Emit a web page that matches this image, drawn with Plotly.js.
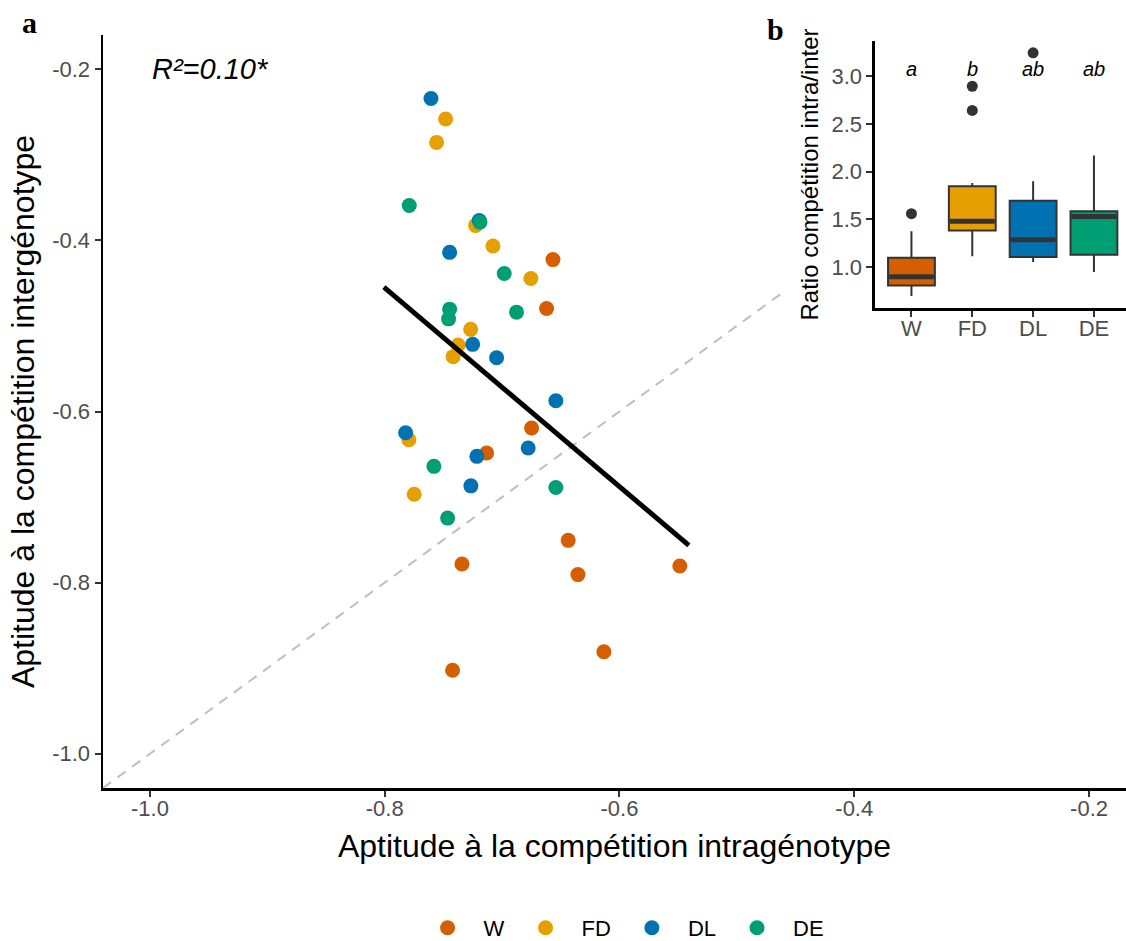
<!DOCTYPE html>
<html>
<head>
<meta charset="utf-8">
<script src="https://cdn.plot.ly/plotly-3.0.1.min.js"></script>
<style>html,body{margin:0;padding:0;background:#fff;}#chart{width:1126px;height:941px;}</style>
</head>
<body>
<div id="chart"></div>
<script>
// ---------- data: panel a ----------
const groups = ["W", "FD", "DL", "DE"];
const groupColors = ["#D55E00", "#E69F00", "#0072B2", "#009E73"];

const intraW  = [-0.6567, -0.6621, -0.6749, -0.7132, -0.6437, -0.7342, -0.6354, -0.5486, -0.6133, -0.7422];
const interW  = [-0.4225, -0.4796, -0.6193, -0.6485, -0.7506, -0.7782, -0.7906, -0.7805, -0.8807, -0.9024];
const intraFD = [-0.7481, -0.7558, -0.7226, -0.7078, -0.6755, -0.7268, -0.7374, -0.7417, -0.7794, -0.7749];
const interFD = [-0.2582, -0.2855, -0.3825, -0.4066, -0.4446, -0.5040, -0.5223, -0.5359, -0.6330, -0.6967];
const intraDL = [-0.7606, -0.7195, -0.7447, -0.7251, -0.7047, -0.6542, -0.7822, -0.7215, -0.6778, -0.7266];
const interDL = [-0.2342, -0.3767, -0.4140, -0.5215, -0.5371, -0.5875, -0.6248, -0.6524, -0.6426, -0.6869];
const intraDE = [-0.7791, -0.7189, -0.6982, -0.7447, -0.7456, -0.6877, -0.7581, -0.6542, -0.7464];
const interDE = [-0.3592, -0.3787, -0.4388, -0.4804, -0.4917, -0.4839, -0.6641, -0.6889, -0.7246];

// fitted regression line (ends)
const fitX = [-0.8007, -0.5409];
const fitY = [-0.4547, -0.7564];
// 1:1 reference line (visible part)
const refX = [-1.04, -0.458];
const refY = [-1.04, -0.458];

const mainTicks = [-1.0, -0.8, -0.6, -0.4, -0.2];
const mainTickText = ["-1.0", "-0.8", "-0.6", "-0.4", "-0.2"];

// ---------- data: panel b (box statistics) ----------
const boxQ1     = [0.808, 1.384, 1.105, 1.130];
const boxMedian = [0.899, 1.479, 1.287, 1.531];
const boxQ3     = [1.098, 1.848, 1.695, 1.586];
const boxLow    = [0.696, 1.112, 1.052, 0.948];
const boxHigh   = [1.374, 1.880, 1.900, 2.170];
const outlierGroup = [0, 1, 1, 2];
const outlierValue = [1.559, 2.895, 2.641, 3.245];
const letters = ["a", "b", "ab", "ab"];
const letterY = 3.08;
const ratioTicks = [1.0, 1.5, 2.0, 2.5, 3.0];
const ratioTickText = ["1.0", "1.5", "2.0", "2.5", "3.0"];

// ---------- traces ----------
const FONT = "Liberation Sans, Arial, sans-serif";
const xs = [intraW, intraFD, intraDL, intraDE];
const ys = [interW, interFD, interDL, interDE];
const traces = [];

traces.push({
  x: refX, y: refY, mode: "lines", type: "scatter", showlegend: false, hoverinfo: "skip",
  line: {color: "#BEBEBE", width: 2, dash: "10px,8px"}, xaxis: "x", yaxis: "y"
});

groups.forEach((g, i) => {
  traces.push({
    x: xs[i], y: ys[i], name: g, type: "scatter", mode: "markers",
    marker: {color: groupColors[i], size: 15, line: {width: 0}},
    xaxis: "x", yaxis: "y"
  });
});

traces.push({
  x: fitX, y: fitY, mode: "lines", type: "scatter", showlegend: false, hoverinfo: "skip",
  line: {color: "#000000", width: 5}, xaxis: "x", yaxis: "y"
});

const pos = groups.map((g, i) => i);
const BW = 0.77;
groups.forEach((g, i) => {
  traces.push({
    type: "box", x: [pos[i]], q1: [boxQ1[i]], median: [boxMedian[i]], q3: [boxQ3[i]],
    lowerfence: [boxLow[i]], upperfence: [boxHigh[i]],
    width: BW, whiskerwidth: 0, boxpoints: false,
    fillcolor: groupColors[i], line: {color: "#333333", width: 2},
    showlegend: false, xaxis: "x2", yaxis: "y2", hoverinfo: "skip"
  });
  traces.push({
    type: "scatter", mode: "lines", x: [pos[i] - BW / 2 + 0.02, pos[i] + BW / 2 - 0.02],
    y: [boxMedian[i], boxMedian[i]], line: {color: "#333333", width: 5},
    showlegend: false, xaxis: "x2", yaxis: "y2", hoverinfo: "skip"
  });
});

traces.push({
  type: "scatter", mode: "markers", x: outlierGroup.map(k => pos[k]), y: outlierValue,
  marker: {color: "#333333", size: 11}, showlegend: false, xaxis: "x2", yaxis: "y2"
});

// ---------- layout ----------
const axisCommon = {
  showgrid: false, zeroline: false, showline: true, linecolor: "#000000", linewidth: 2.5,
  ticks: "outside", ticklen: 6, tickwidth: 2, tickcolor: "#333333",
  tickfont: {family: FONT, size: 22, color: "#4D4D4D"}
};

const annotations = [
  {xref: "x", yref: "y", x: -1.0, y: -0.2, xanchor: "left", yanchor: "middle", showarrow: false,
   text: "<i>R²=0.10*</i>", font: {family: FONT, size: 29, color: "#000"}},
  {xref: "paper", yref: "paper", x: -0.072, y: 1.017, xanchor: "center", yanchor: "middle", showarrow: false,
   text: "<b>a</b>", font: {family: "Liberation Serif, Times New Roman, serif", size: 30, color: "#000"}},
  {xref: "paper", yref: "paper", x: 0.657, y: 1.007, xanchor: "center", yanchor: "middle", showarrow: false,
   text: "<b>b</b>", font: {family: "Liberation Serif, Times New Roman, serif", size: 30, color: "#000"}}
];
letters.forEach((t, i) => {
  annotations.push({xref: "x2", yref: "y2", x: pos[i], y: letterY, showarrow: false,
    xanchor: "center", yanchor: "middle",
    text: "<i>" + t + "</i>", font: {family: FONT, size: 20, color: "#000"}});
});

const layout = {
  width: 1126, height: 941,
  margin: {l: 103, r: 0, t: 35, b: 153, pad: 0},
  paper_bgcolor: "#ffffff", plot_bgcolor: "#ffffff",
  font: {family: FONT},
  showlegend: true,
  legend: {orientation: "h", xref: "container", yref: "container",
    x: 0.3655, xanchor: "left", y: 0.0138, yanchor: "middle",
    font: {family: FONT, size: 22, color: "#000"}, itemwidth: 62, traceorder: "normal"},
  xaxis: Object.assign({}, axisCommon, {
    domain: [0, 1], range: [-1.04, -0.1685], tickvals: mainTicks, ticktext: mainTickText,
    anchor: "y", ticklabelstandoff: -7,
    title: {text: "Aptitude à la compétition intragénotype", standoff: 15,
      font: {family: FONT, size: 32, color: "#000"}}
  }),
  yaxis: Object.assign({}, axisCommon, {
    domain: [0, 1], range: [-1.04, -0.16], tickvals: mainTicks, ticktext: mainTickText,
    anchor: "x",
    title: {text: "Aptitude à la compétition intergénotype", standoff: 8,
      font: {family: FONT, size: 32, color: "#000"}}
  }),
  xaxis2: Object.assign({}, axisCommon, {
    domain: [0.7546, 1], range: [-0.6, 3.527], tickvals: pos, ticktext: groups, anchor: "y2",
    ticklabelstandoff: -7
  }),
  yaxis2: Object.assign({}, axisCommon, {
    domain: [0.6372, 0.9924], range: [0.569, 3.372], tickvals: ratioTicks, ticktext: ratioTickText,
    anchor: "x2",
    title: {text: "Ratio compétition intra/inter", standoff: 6,
      font: {family: FONT, size: 24, color: "#000"}}
  }),
  annotations: annotations
};

Plotly.newPlot("chart", traces, layout, {displayModeBar: false, staticPlot: true});
</script>
</body>
</html>
